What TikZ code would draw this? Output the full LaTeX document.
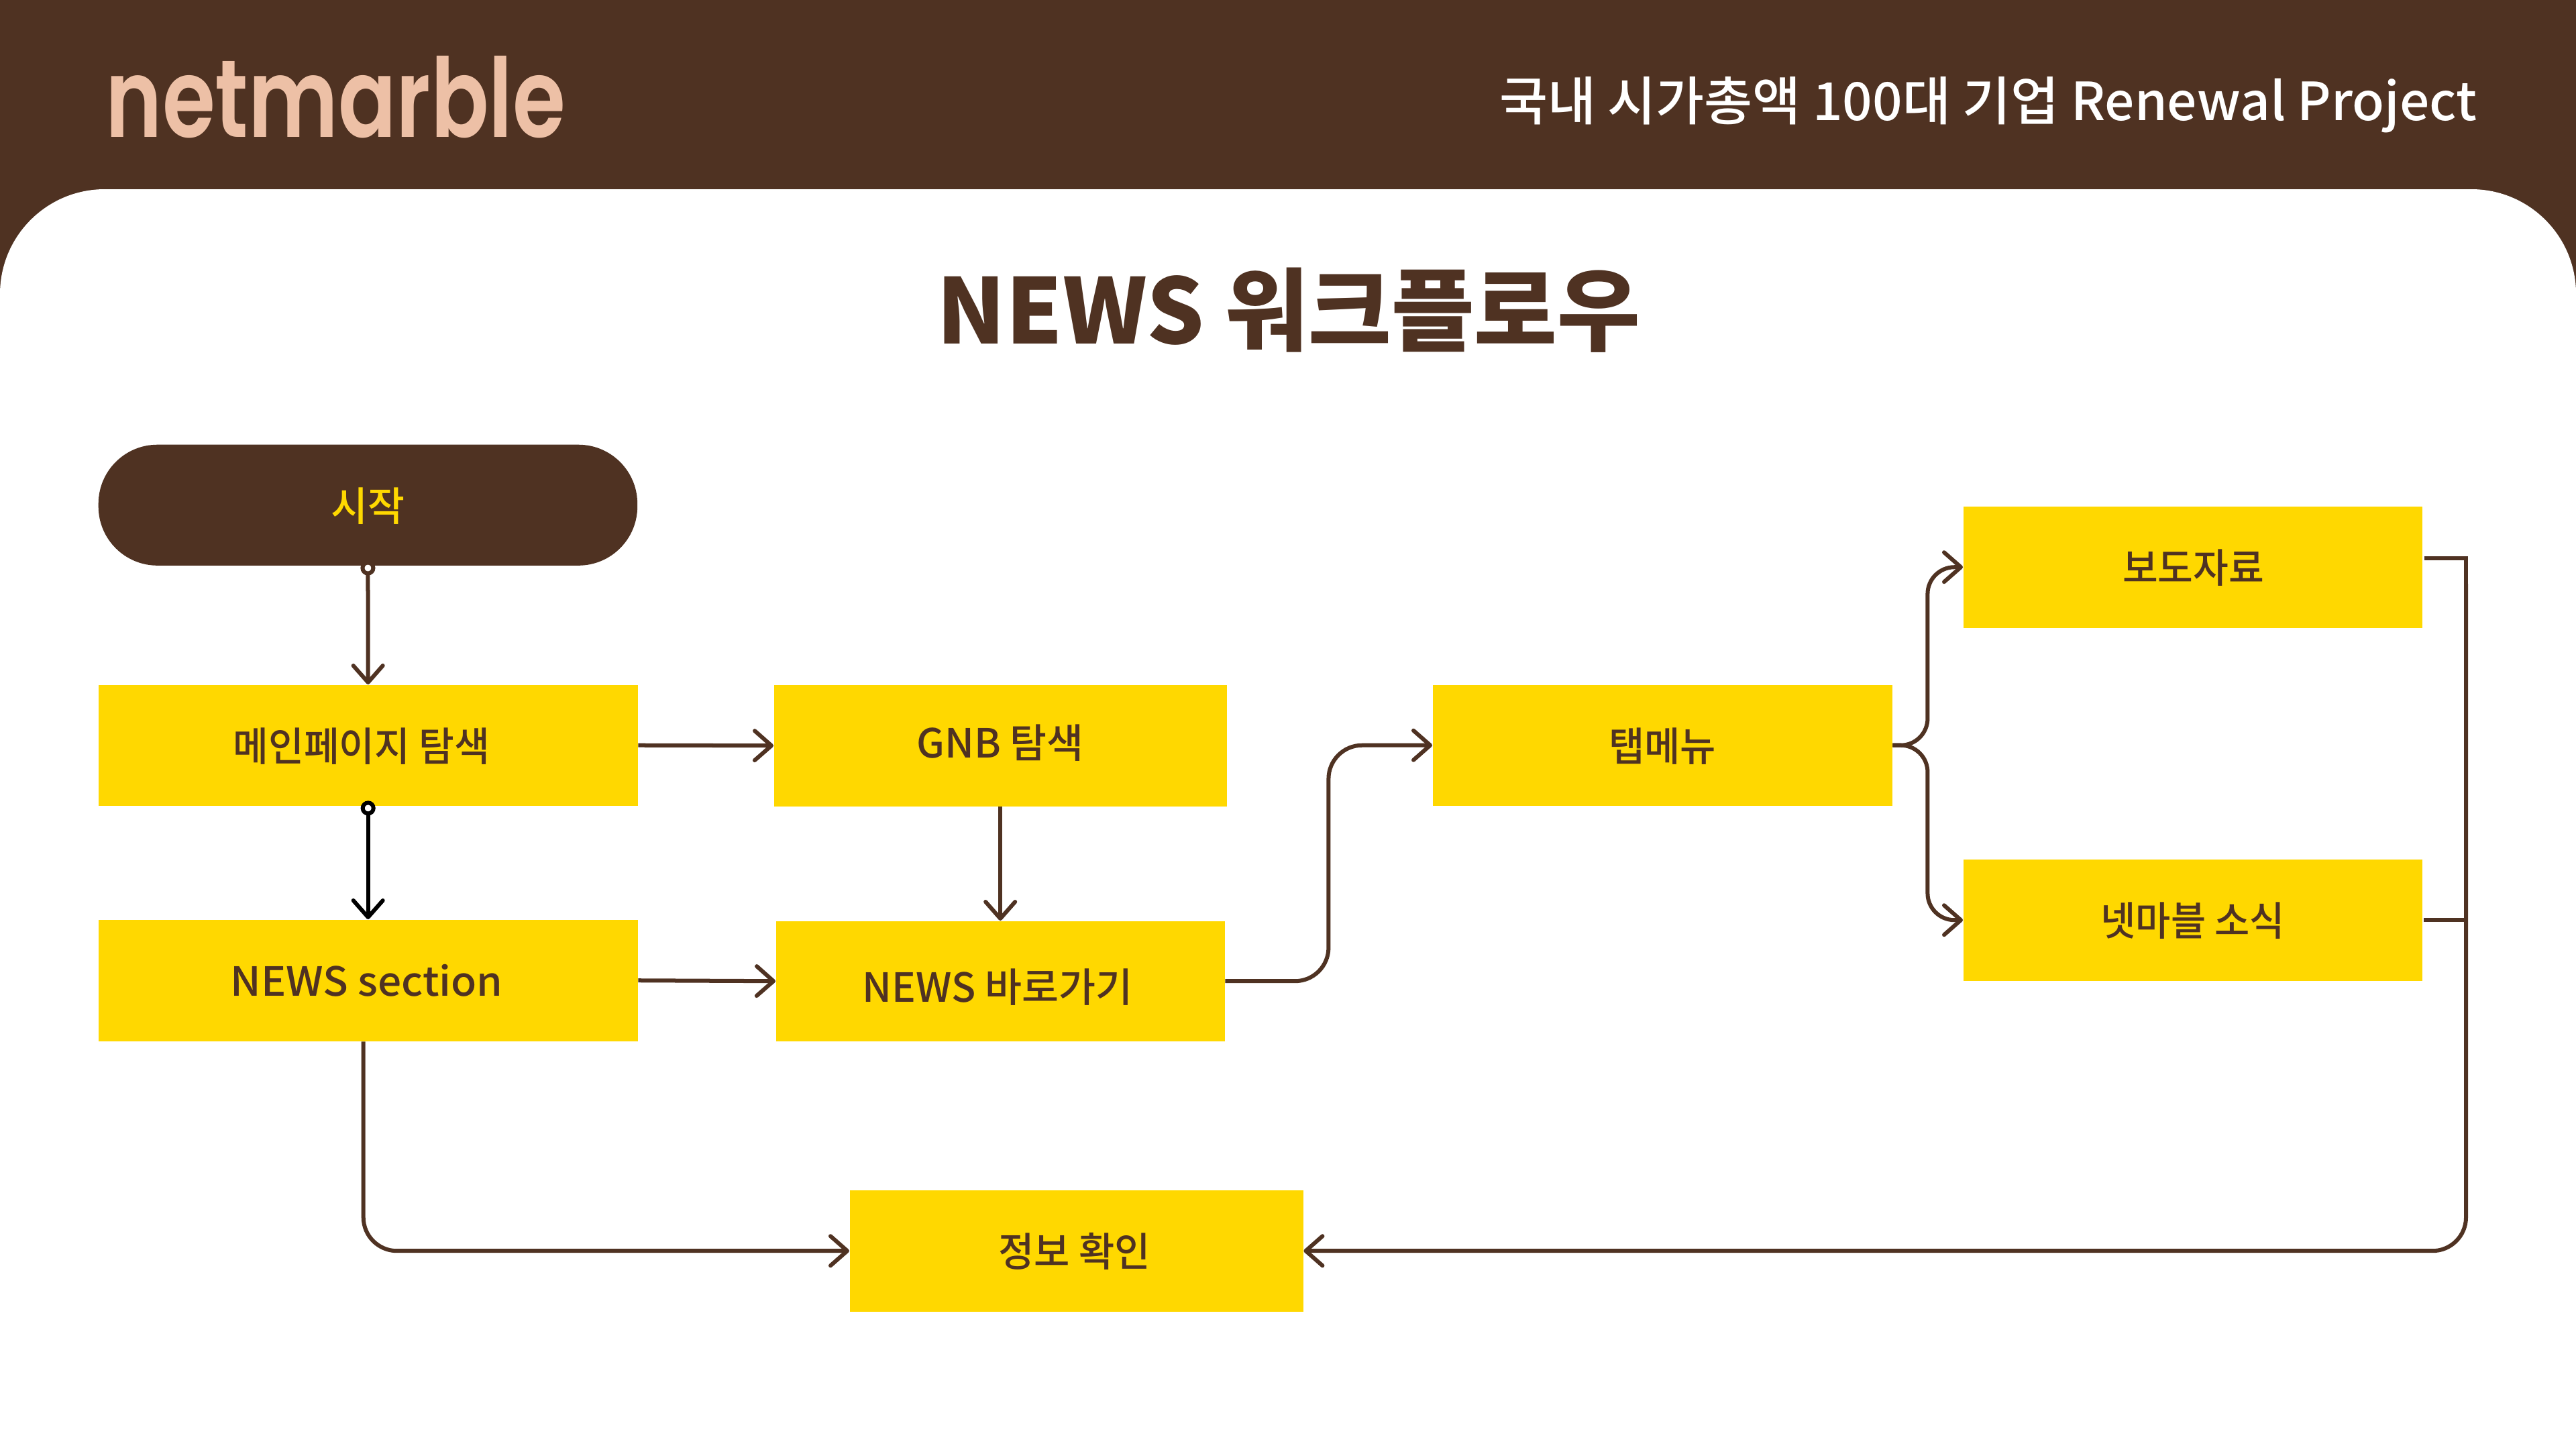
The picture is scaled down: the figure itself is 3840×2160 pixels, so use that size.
\documentclass[tikz,border=0pt]{standalone}
\usepackage{fontspec}
\usepackage{graphicx}
\usetikzlibrary{arrows.meta,calc}
\setmainfont{Noto Sans CJK KR Medium}
\newfontfamily\titlefont{Noto Sans CJK KR}
\newfontfamily\logofont{Poppins SemiBold}
\definecolor{brownc}{HTML}{4F3222}
\definecolor{yellowc}{HTML}{FFD800}
\definecolor{logoc}{HTML}{EDC0A6}
\tikzset{
  boxn/.style={fill=yellowc,text=brownc,inner sep=0pt,anchor=north west,font=\fontsize{17}{20}\selectfont},
  barb/.tip={Straight Barb[length=0.25cm,width=0.44cm,round,line width=0.06cm]},
  conn/.style={draw=brownc,line width=0.06cm,-{barb},rounded corners=0.5cm},
  plain/.style={draw=brownc,line width=0.06cm},
  dotstart/.style={shorten <=-0.08cm,{Circle[open,fill=white,length=0.22cm,width=0.22cm,line width=0.06cm]}-{barb}}
}
% #1 horizontal scale, #2 x offset (cm), #3 y offset (cm), #4 text: placed with its baseline set from the box centre
\newcommand{\lblt}[4]{\raisebox{\dimexpr #3cm-0.235cm\relax}[0pt][0pt]{\makebox[0pt][l]{\kern#2cm\makebox[0pt][c]{\scalebox{#1}[1]{#4}}}}}
\newcommand{\boxat}[5]{\node[boxn,minimum width=#3*0.01cm,minimum height=#4*0.01cm] (#1) at (#2) {#5};}
\begin{document}
\begin{tikzpicture}[x=0.01cm,y=-0.01cm]
\useasboundingbox (0,0) rectangle (3840,2160);
\fill[brownc] (0,0) rectangle (3840,450);
\fill[white] (0,2160) {[rounded corners=1.56cm] -- (0,282) -- (3840,282) -- (3840,2160)} -- cycle;

\node[text=logoc,inner sep=0pt,anchor=base west] (logo) at (157,204) {\logofont\fontsize{42}{46}\selectfont\resizebox{6.85cm}{1.21cm}{netmarble}};
\node[text=white,inner sep=0pt,anchor=base east] (hdr) at (3693,179) {\fontsize{22}{26}\selectfont\resizebox{14.56cm}{!}{국내 시가총액 100대 기업 Renewal Project}};
\node[text=brownc,inner sep=0pt] (title) at (1921,462) {\titlefont\fontsize{42}{48}\selectfont\bfseries\resizebox{10.48cm}{!}{NEWS 워크플로우}};

\node[fill=brownc,text=yellowc,inner sep=0pt,anchor=north west,minimum width=8.03cm,minimum height=1.80cm,rounded corners=0.88cm,font=\fontsize{17}{20}\selectfont] (start) at (146,662) {\lblt{1}{0}{0}{시작}};

\boxat{main}{146,1020}{804}{180}{\lblt{0.96}{-0.10}{0}{메인페이지 탐색}}
\boxat{nsec}{146,1370}{804}{181}{\lblt{1.04}{-0.02}{0}{NEWS section}}
\boxat{gnb}{1153,1020}{675}{181}{\lblt{1}{0}{0.05}{GNB 탐색}}
\boxat{nlink}{1156,1372}{669}{179}{\lblt{1}{-0.04}{-0.08}{NEWS 바로가기}}
\boxat{tab}{2135,1020}{685}{180}{\lblt{0.97}{0}{0}{탭메뉴}}
\boxat{press}{2926,754}{684}{181}{\lblt{0.96}{0.01}{0}{보도자료}}
\boxat{news}{2926,1280}{684}{181}{\lblt{0.95}{0}{0}{넷마블 소식}}
\boxat{check}{1266,1773}{676}{181}{\lblt{0.97}{-0.03}{0}{정보 확인}}

\coordinate (rail) at (3676,832);
\draw[conn,dotstart] (start.south) -- (main.north);
\draw[conn,dotstart,draw=black,black] (main.south) -- (nsec.north);
\draw[conn] (main.east) -- (gnb.west);
\draw[conn] (nsec.east) -- (nlink.west);
\draw[conn] (gnb.south) -- (nlink.north);
\draw[conn] (nlink.east) -- ++(154,0) |- (tab.west);
\draw[conn,rounded corners=0.4cm] (tab.east) -- ++(52,0) |- (press.west);
\draw[conn,rounded corners=0.4cm] (tab.east) -- ++(52,0) |- (news.west);
\draw[conn] ([xshift=-0.07cm]nsec.south) |- (check.west);
\draw[plain] ($(press.east |- rail)+(3,0)$) -- (rail) -- ++(0,40);
\draw[conn] ($(rail)+(0,38)$) |- (check.east);
\draw[plain] ([xshift=0.02cm]news.east) -- (news.east -| rail);
\end{tikzpicture}
\end{document}
